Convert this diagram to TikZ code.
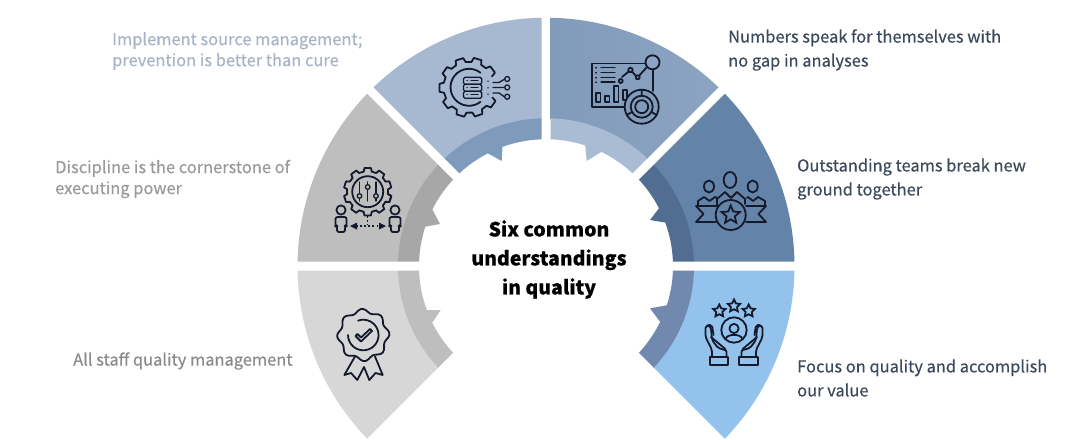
\documentclass[tikz,border=0pt]{standalone}
\usepackage{fontspec}
\setmainfont{Noto Sans CJK SC}[RawFeature={embolden=0.35}]
\usetikzlibrary{shapes.geometric}
\definecolor{ink}{HTML}{141A2B}
\definecolor{trO}{HTML}{819BBA}\definecolor{trOb}{HTML}{8CA4C1}\definecolor{trI}{HTML}{AABCD3}
\definecolor{tlO}{HTML}{A7B9D0}\definecolor{tlI}{HTML}{7F9BBC}
\definecolor{urO}{HTML}{6383A9}\definecolor{urI}{HTML}{516D92}
\definecolor{brO}{HTML}{93C3EC}\definecolor{brI}{HTML}{7189AE}
\definecolor{lO}{HTML}{BEBEBE}\definecolor{lI}{HTML}{A7A7A7}
\definecolor{blO}{HTML}{D7D7D7}\definecolor{blI}{HTML}{BEBEBE}
\definecolor{txtA}{HTML}{A7B4C7}\definecolor{txtB}{HTML}{9A9A9A}\definecolor{txtC}{HTML}{8A8A8A}
\definecolor{txtD}{HTML}{3C485C}
\newcommand{\ringsector}[5]{%
  \pgfmathsetmacro{\aA}{#2+asin(4.5/#5)}\pgfmathsetmacro{\aB}{#3-asin(4.5/#5)}
  \pgfmathsetmacro{\aC}{#3-asin(4.5/#4)}\pgfmathsetmacro{\aD}{#2+asin(4.5/#4)}
  \path[#1] ([shift={(\aA:#5)}]546,266.2) arc[start angle=\aA,end angle=\aB,radius=#5]
    -- ([shift={(\aC:#4)}]546,266.2) arc[start angle=\aC,end angle=\aD,radius=#4] -- cycle;}
\newcommand{\gearicon}[7]{%
  \begin{scope}[shift={(#1,#2)},icon]
  \pgfmathsetmacro{\stepA}{360/#5}
  \pgfmathsetmacro{\wI}{\stepA*0.32}\pgfmathsetmacro{\wO}{\stepA*0.21}
  \pgfmathtruncatemacro{\lastT}{#7}
  \foreach \i in {0,...,\lastT}{
    \pgfmathsetmacro{\a}{#6+\i*\stepA}
    \pgfmathsetmacro{\b}{\a+\stepA-\wI}
    \pgfmathsetmacro{\c}{\a+\wI}
    \draw (\a-\wI:#3) -- (\a-\wO:#4) -- (\a+\wO:#4) -- (\c:#3);
    \ifnum\i<\lastT \draw (\c:#3) arc[start angle=\c,end angle=\b,radius=#3]; \fi
  }
  \end{scope}}
\tikzset{
  icon/.style={draw=ink,line width=1.8pt,line join=round,line cap=round},
  thin icon/.style={icon,line width=1.3pt},
  label/.style={anchor=west,align=left,inner sep=0pt},
  wide/.style={label,font=\fontsize{16.45}{24}\selectfont},
  tight/.style={label,font=\fontsize{16.45}{21}\selectfont},
  centre/.style={align=center,font=\fontsize{19.5}{29}\selectfont\bfseries,text=black,inner sep=0pt},
  dots/.style={icon,line width=1.5pt,dash pattern=on 1.5pt off 2.6pt,line cap=butt},
  iconstar/.style={star,star points=5,draw=ink,line width=1.8pt,inner sep=0pt}
}
\begin{document}
\begin{tikzpicture}[x=1pt,y=1pt,yscale=-1]
\useasboundingbox (0,0) rectangle (1092,439);
% outer sectors
\ringsector{left color=trO,right color=trOb}{-90}{-45}{147.5}{248.5}
\ringsector{fill=tlO}{-135}{-90}{147.5}{248.5}
\ringsector{fill=urO}{-45}{0}{147.5}{248.5}
\ringsector{fill=brO}{0}{45}{147.5}{248.5}
\ringsector{fill=lO}{-180}{-135}{147.5}{248.5}
\ringsector{fill=blO}{135}{180}{147.5}{248.5}
% inner bands
\ringsector{fill=trI}{-90}{-45}{127}{148}
\ringsector{fill=tlI}{-135}{-90}{127}{148}
\ringsector{fill=urI}{-45}{0}{127}{148}
\ringsector{fill=brI}{0}{45}{127}{148}
\ringsector{fill=lI}{-180}{-135}{127}{148}
\ringsector{fill=blI}{135}{180}{127}{148}
% teeth
\fill[trI] (585,143) -- (586.7,161) -- (601.7,151.7) -- (604,144) -- cycle;
\fill[tlI] (502.7,143) -- (501.7,161) -- (486.7,152.7) -- (484,146) -- cycle;
\fill[urI] (660.7,206) -- (650,220) -- (668,223) -- (675,215) -- cycle;
\fill[brI] (668.3,305) -- (650,308.3) -- (660,321.7) -- (672,322) -- cycle;
\fill[lI] (425,226.7) -- (440,224) -- (432.7,210) -- (420,205) -- cycle;
\fill[blI] (424,310) -- (440.7,310) -- (433,321.7) -- (424,325) -- cycle;

% icon 1: chart
\draw[icon] (645,63.5) -- (591.7,63.5) -- (591.7,106.7) -- (625,106.7);
\draw[icon] (653,69) -- (653,91);
\draw[thin icon] (596,67.5) -- (596,68) (601,67.5) -- (615,67.5)
  (596,72.5) -- (596,73) (601,72.5) -- (615,72.5)
  (596,77.5) -- (596,78) (601,77.5) -- (615,77.5)
  (596,82) -- (596,82.5) (601,82) -- (615,82);
\draw[thin icon] (596,93) rectangle (600.5,102) (605,96) rectangle (609.5,102)
  (614,86) rectangle (618.5,102) (623,90) rectangle (627,100);
\draw[icon] (622,77) -- (630.5,70) -- (637.5,77.5) -- (647,67);
\draw[icon,fill=trO] (620.7,81) circle[radius=2] (630.5,70) circle[radius=2.2] (637.7,77.3) circle[radius=2];
\draw[icon,fill=trOb] (652.5,62.3) circle[radius=7];
\draw[icon,fill=trO] (641.7,106.7) circle[radius=17];
\draw[icon] (641.7,106.7) circle[radius=11] (641.7,106.7) circle[radius=6.5];
\draw[icon] (641.7,95.7) -- (641.7,89.7) (632,112) -- (626.8,115) (651.4,112) -- (656.6,115);

% icon 2: gear + server
\gearicon{469}{87.3}{25.5}{29.8}{10}{35}{8}
\draw[icon] (480.4,72.7) arc[start angle=-52,end angle=-308,radius=18.5];
\draw[thin icon,fill=tlO,rounded corners=1.5pt] (463.5,77.3) rectangle (481.7,84.3);
\draw[thin icon,fill=tlO,rounded corners=1.5pt] (463.5,84.3) rectangle (481.7,91.3);
\draw[thin icon,fill=tlO,rounded corners=1.5pt] (463.5,91.3) rectangle (481.7,98.3);
\draw[thin icon] (467,80.8) -- (467.4,80.8) (471,80.8) -- (478,80.8) (467,87.8) -- (467.4,87.8) (471,87.8) -- (478,87.8) (467,94.8) -- (467.4,94.8) (471,94.8) -- (478,94.8);
\draw[thin icon] (488,81) -- (488,81.4) (493,82.5) -- (499,82.5) -- (504,79.5)
  (488,87.5) -- (488,87.9) (493,87.5) -- (504,87.5)
  (488,94) -- (488,94.4) (493,93) -- (499,93) -- (504,96.5);
\draw[thin icon] (507.2,79) circle[radius=2.5] (507.2,87.4) circle[radius=2.5] (507.2,96.7) circle[radius=2.5];

% icon 3: gear + persons
\gearicon{367.7}{191.7}{20.5}{24}{10}{18}{10}
\draw[icon] (367.7,191.7) circle[radius=15.5];
\draw[thin icon] (359.5,182) -- (359.5,201) (367.7,182) -- (367.7,201) (376,182) -- (376,201);
\draw[thin icon,fill=lO] (359.5,196) circle[radius=2.3] (367.7,187) circle[radius=2.3] (376,196) circle[radius=2.3];
\draw[icon] (341,210) circle[radius=4.6] (395,210) circle[radius=4.6];
\draw[icon,rounded corners=2pt] (335.5,226) -- (335.5,217) -- (346.5,217) -- (346.5,226) -- (345,226) -- (345,232) -- (337,232) -- (337,226) -- cycle;
\draw[icon,rounded corners=2pt] (389.5,226) -- (389.5,217) -- (400.5,217) -- (400.5,226) -- (399,226) -- (399,232) -- (391,232) -- (391,226) -- cycle;
\draw[dots] (356,226) -- (381,226) (367.7,216) -- (367.7,225);
\fill[ink] (350,226) -- (357,222.5) -- (357,229.5) -- cycle (386,226) -- (379,222.5) -- (379,229.5) -- cycle;

% icon 4: rosette
\draw[icon] plot[smooth cycle,samples at={0,6,...,354}] ({363.3+(24.3+1.9*cos(8*\x+22))*cos(\x)},{335+(24.3+1.9*cos(8*\x+22))*sin(\x)});
\draw[icon] (348,335) arc[start angle=180,end angle=-110,radius=15.3];
\draw[icon] (355.5,336) -- (361,341.5) -- (372,331) -- (370,329) -- (361,337.5) -- (357.5,334) -- cycle;
\draw[icon] (355,356.5) -- (344.3,375) -- (351,373) -- (357.3,380) -- (364,367) -- (369.3,380) -- (375.5,373) -- (382.7,375) -- (375,356.5);

% icon 5: team
\draw[icon] (730,180) ellipse[x radius=6.3,y radius=8];
\draw[icon] (709,186.5) ellipse[x radius=5,y radius=6];
\draw[icon] (752.7,186.5) ellipse[x radius=5,y radius=6];
\draw[icon] (717,206.5) -- (717,199) -- (725,192) -- (731,198) -- (737,192) -- (745,199) -- (745,204);
\draw[icon] (698,206) -- (698,201) -- (704,197) -- (709.5,201) -- (715,197) -- (717,198);
\draw[icon] (747,198) -- (748,197) -- (753,201) -- (758,197) -- (765,201) -- (765,206);
\draw[icon] (716,206) -- (696,206) -- (703.5,214) -- (696,222) -- (716,222);
\draw[icon] (746,206) -- (766,206) -- (758.5,214) -- (766,222) -- (746,222);
\draw[icon,fill=urO] (730.7,215) circle[radius=15];
\node[iconstar,star point ratio=2.2,minimum size=19pt] (teamstar) at (730.7,215) {};

% icon 6: hands
\node[iconstar,star point ratio=2,minimum size=13pt] (starL) at (719.3,311) {};
\node[iconstar,star point ratio=2,minimum size=13pt] (starM) at (734,306) {};
\node[iconstar,star point ratio=2,minimum size=13pt] (starR) at (748.7,311) {};
\draw[icon] (734,330) circle[radius=12.7];
\draw[icon] (734,328.5) circle[radius=4.6];
\draw[icon] (725.5,339) .. controls (727,333.5) and (741,333.5) .. (742.5,339);
\draw[icon] (710,357.3) rectangle (728.3,364.7) (739.3,357.3) rectangle (757.7,364.7);
\draw[icon,rounded corners=2pt] (712,357) -- (712,350) -- (705.5,337) -- (705.5,326) -- (709,325) -- (711,328) -- (712,340) -- (718,348) -- (725,350);
\draw[icon,rounded corners=2pt] (726.5,357) -- (726.5,350) -- (711,337);
\draw[icon,rounded corners=2pt] (708.5,325) -- (712,325) -- (713.5,335);
\draw[icon,rounded corners=2pt] (756,357) -- (756,350) -- (762.5,337) -- (762.5,326) -- (759,325) -- (757,328) -- (756,340) -- (750,348) -- (743,350);
\draw[icon,rounded corners=2pt] (741.5,357) -- (741.5,350) -- (757,337);
\draw[icon,rounded corners=2pt] (759.5,325) -- (756,325) -- (754.5,335);

% labels
\node[tight,text=txtA] (implement) at (112,51) {Implement source management;\\prevention is better than cure};
\node[tight,text=txtB] (discipline) at (55,179) {Discipline is the cornerstone of\\executing power};
\node[wide,text=txtC] (allstaff) at (73,361) {All staff quality management};
\node[wide,text=txtD] (numbers) at (728,50) {Numbers speak for themselves with\\no gap in analyses};
\node[wide,text=txtD] (teams) at (797,179) {Outstanding teams break new\\ground together};
\node[wide,text=txtD] (focus) at (797,378) {Focus on quality and accomplish\\our value};
\node[centre] (title) at (549,259.5) {Six common\\understandings\\in quality};
\end{tikzpicture}
\end{document}
